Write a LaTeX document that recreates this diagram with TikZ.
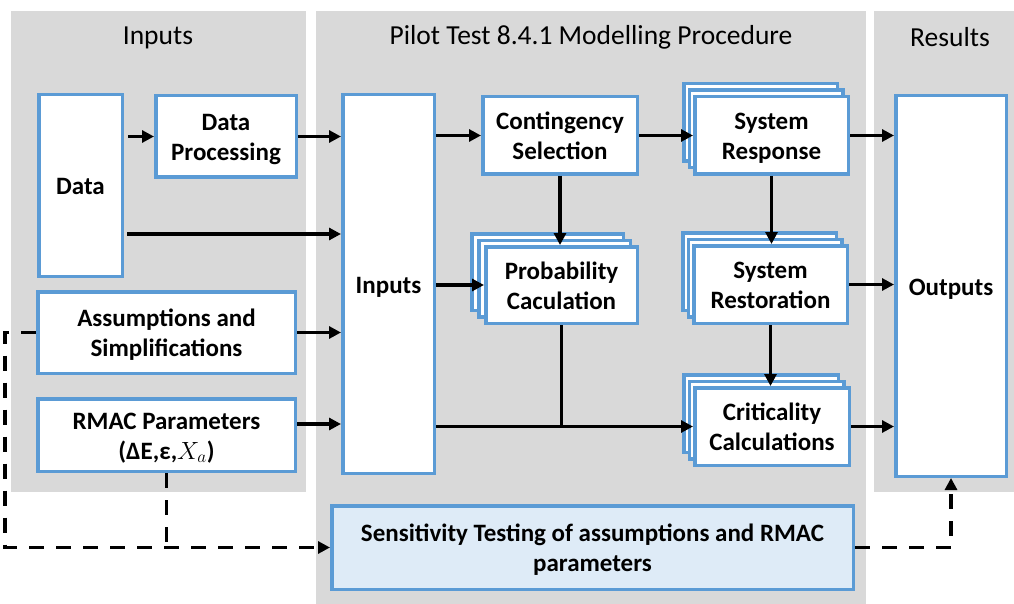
\documentclass[tikz,border=0pt]{standalone}
\usepackage{fontspec}
\setmainfont{Carlito}
\usetikzlibrary{arrows.meta,shadows}
\definecolor{panelgrey}{HTML}{D9D9D9}
\definecolor{boxblue}{HTML}{5B9BD5}
\definecolor{sensfill}{HTML}{DEEBF7}
% box label: centred lines, set slightly low as in a word-processor text box
\newcommand{\lowtext}[1]{\raisebox{-3pt}[\height][\depth]{\begin{tabular}{@{}c@{}}#1\end{tabular}}}
\begin{document}
\begin{tikzpicture}[x=1pt,y=-1pt,
  panel/.style={fill=panelgrey,draw=none},
  paneltitle/.style={font=\fontsize{27.5}{32}\selectfont},
  box/.style={draw=boxblue,line width=3.5pt,fill=white,inner sep=0pt,
    font=\fontsize{25}{30}\selectfont\bfseries},
  stackR/.style={
    general shadow={shadow xshift=-11pt,shadow yshift=13pt,fill=white,draw=boxblue,line width=3.5pt},
    general shadow={shadow xshift=-5.5pt,shadow yshift=6.5pt,fill=white,draw=boxblue,line width=3.5pt}},
  stackP/.style={
    general shadow={shadow xshift=-14pt,shadow yshift=13pt,fill=white,draw=boxblue,line width=3.5pt},
    general shadow={shadow xshift=-7pt,shadow yshift=6.5pt,fill=white,draw=boxblue,line width=3.5pt}},
  arr/.style={line width=3.2pt,-{Triangle[length=12pt,width=12pt]}},
  link/.style={line width=3.2pt},
  dsh/.style={line width=3.2pt,dash pattern=on 15pt off 12pt},
  dsharr/.style={dsh,-{Triangle[length=12pt,width=12pt]}}
]
\useasboundingbox (0,0) rectangle (1014,604);
\fill[white] (0,0) rectangle (1014,604);

% background panels
\fill[panel] (11,11) rectangle (306,492);
\fill[panel] (316,11) rectangle (866,604);
\fill[panel] (874,11) rectangle (1014,492);
\node[paneltitle] (tin) at (158,37.5) {Inputs};
\node[paneltitle] (tproc) at (591,37.5) {Pilot Test 8.4.1 Modelling Procedure};
\node[paneltitle] (tres) at (950,37.5) {Results};

% input blocks
\node[box,minimum width=83.5pt,minimum height=181.5pt] (data) at (80.5,185.5) {\lowtext{Data}};
\node[box,minimum width=140.5pt,minimum height=81.5pt] (proc) at (226,136.5) {\lowtext{Data\\Processing}};
\node[box,minimum width=257.5pt,minimum height=81.5pt] (assum) at (166.5,332.5) {\lowtext{Assumptions and\\Simplifications}};
\node[box,minimum width=257.5pt,minimum height=72.5pt] (rmac) at (166.5,435) {\lowtext{RMAC Parameters\\(ΔE,ε,$X_a$)}};

% modelling procedure blocks
\node[box,minimum width=91.5pt,minimum height=378.5pt] (inp) at (388.5,284) {\lowtext{Inputs}};
\node[box,minimum width=154.5pt,minimum height=77.5pt] (cont) at (560,135.5) {\lowtext{Contingency\\Selection}};
\node[box,stackR,minimum width=153.5pt,minimum height=77.5pt] (resp) at (771.5,135.5) {\lowtext{System\\Response}};
\node[box,stackP,minimum width=151.5pt,minimum height=76.5pt] (prob) at (561.5,285) {\lowtext{Probability\\Caculation}};
\node[box,stackR,minimum width=153.5pt,minimum height=77.5pt] (rest) at (770.5,284.5) {\lowtext{System\\Restoration}};
\node[box,stackR,minimum width=154.5pt,minimum height=77.5pt] (crit) at (772,426.5) {\lowtext{Criticality\\Calculations}};
\node[box,fill=sensfill,minimum width=521.5pt,minimum height=83.5pt] (sens) at (592.5,547.5)
  {\lowtext{Sensitivity Testing of assumptions and RMAC\\parameters}};

% result block
\node[box,minimum width=110.5pt,minimum height=380.5pt] (out) at (951,286) {\lowtext{Outputs}};

% solid connectors
\draw[arr] ([xshift=4pt]data.east |- proc.west) -- (proc.west);
\draw[arr] (proc.east) -- (proc.east -| inp.west);
\draw[arr] ([xshift=3pt,yshift=-48.5pt]data.east) coordinate (d2) -- (d2 -| inp.west);
\draw[arr] (assum.east) -- (assum.east -| inp.west);
\draw[arr] ([yshift=11pt]rmac.east) coordinate (r2) -- (r2 -| inp.west);
\draw[arr] (inp.east |- cont.west) -- (cont.west);
\draw[arr] (inp.east |- prob.west) -- (prob.west);
\draw[arr] (cont.east) -- (cont.east -| resp.west);
\draw[arr] (cont.south) -- (cont.south |- prob.north);
\draw[arr] (resp.south) -- (resp.south |- rest.north);
\draw[arr] (rest.south) -- (rest.south |- crit.north);
\draw[arr] (inp.east |- crit.west) -- (crit.west);
\draw[link] (prob.south) -- (prob.south |- crit.west);
\draw[arr] (resp.east) -- (resp.east -| out.west);
\draw[arr] (rest.east) -- (rest.east -| out.west);
\draw[arr] (crit.east) -- (crit.east -| out.west);

% sensitivity feedback (dashed)
\coordinate (dl) at (5,547.5);
\draw[dsharr] (assum.west) -| (dl) -- (sens.west);
\draw[dsh] (rmac.south) -- (rmac.south |- sens.west);
\draw[dsharr] (sens.east) -| (out.south);
\end{tikzpicture}
\end{document}
